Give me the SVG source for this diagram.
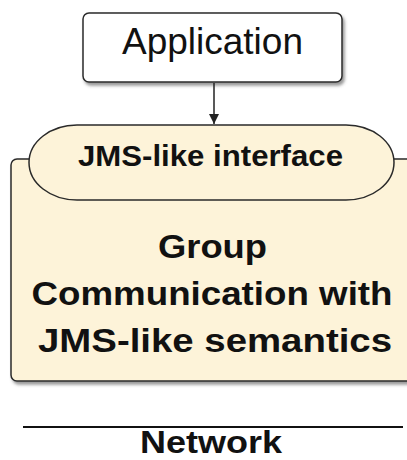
<svg xmlns="http://www.w3.org/2000/svg" width="407" height="460" viewBox="0 0 407 460">
<style>
.t{font-family:"Liberation Sans",Arial,sans-serif;fill:#111;text-anchor:middle}
.b{font-weight:bold}
.shape{stroke:#2a2a2a;stroke-width:1.5}
.cream{fill:#fdf3d9}
</style>
<defs>
<filter id="sh" x="-10%" y="-10%" width="130%" height="130%">
<feDropShadow dx="2" dy="3" stdDeviation="1.5" flood-color="#555" flood-opacity="0.6"/>
</filter>
<marker id="ah" markerWidth="10" markerHeight="12" refX="10" refY="5" orient="auto" markerUnits="userSpaceOnUse">
<path d="M0,0 L10,5 L0,10 z" fill="#222"/>
</marker>
</defs>
<rect width="407" height="460" fill="#fff"/>
<g id="application">
<rect class="shape" x="83" y="13" width="259" height="69" rx="6" fill="#fff" filter="url(#sh)"/>
<text class="t" x="212.5" y="54" font-size="37" textLength="181" lengthAdjust="spacingAndGlyphs">Application</text>
</g>
<g id="group-communication">
<rect class="shape cream" x="11" y="159" width="402" height="222" rx="6" filter="url(#sh)"/>
<text class="t b" x="212.5" y="258" font-size="33" textLength="109" lengthAdjust="spacingAndGlyphs">Group</text>
<text class="t b" x="212" y="305" font-size="33" textLength="361" lengthAdjust="spacingAndGlyphs">Communication with</text>
<text class="t b" x="215" y="352" font-size="33" textLength="354" lengthAdjust="spacingAndGlyphs">JMS-like semantics</text>
</g>
<g id="jms-interface">
<rect class="shape cream" x="29" y="125" width="365" height="75" rx="48" ry="37.5"/>
<text class="t b" x="210.5" y="166" font-size="29" textLength="265" lengthAdjust="spacingAndGlyphs">JMS-like interface</text>
</g>
<g id="network">
<line x1="23" y1="427" x2="403" y2="427" stroke="#111" stroke-width="2"/>
<text class="t b" x="211" y="453" font-size="32" textLength="142" lengthAdjust="spacingAndGlyphs">Network</text>
</g>
<g id="connectors">
<line x1="214" y1="83" x2="214" y2="124" stroke="#222" stroke-width="1.5" marker-end="url(#ah)"/>
</g>
</svg>
